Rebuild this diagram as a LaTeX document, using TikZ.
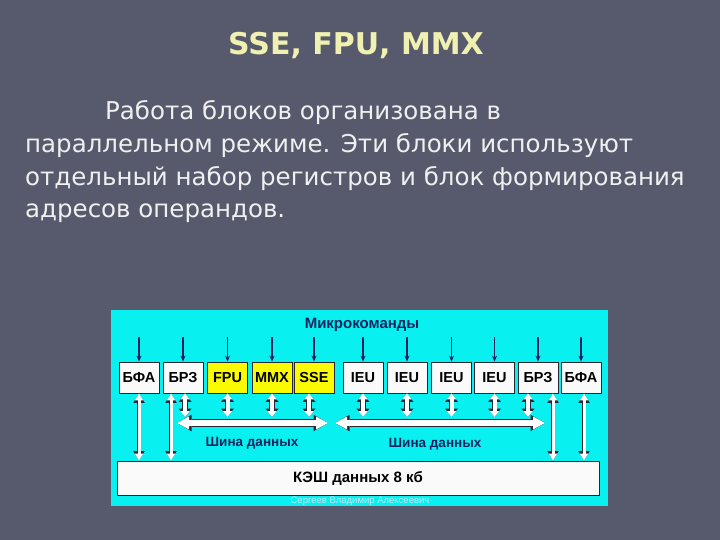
\documentclass[tikz,border=0pt]{standalone}
\usepackage{fontspec}
\setmainfont{Liberation Sans}
\newfontfamily\bodyfont{DejaVu Sans}
\newfontfamily\titlefont{DejaVu Sans}
\usetikzlibrary{arrows.meta}
\definecolor{bg}{RGB}{86,90,108}
\definecolor{titlecol}{RGB}{240,240,176}
\definecolor{bodycol}{RGB}{240,240,240}
\definecolor{cyanpanel}{RGB}{8,240,240}
\definecolor{navy}{RGB}{20,35,95}
\definecolor{boxline}{RGB}{40,40,50}
\definecolor{yel}{RGB}{250,250,0}
\definecolor{wbox}{RGB}{250,250,250}
\definecolor{outl}{RGB}{40,40,55}
\definecolor{wmark}{RGB}{190,235,245}
\tikzset{
  sin/.tip={Triangle[length=6pt,width=9.5pt,line width=0pt]},
  sout/.tip={Triangle[length=8.5pt,width=13pt,line width=0pt]},
  lin/.tip={Triangle[length=7pt,width=8.5pt,line width=0pt]},
  lout/.tip={Triangle[length=9.5pt,width=11.5pt,line width=0pt]},
  bin/.tip={Triangle[length=12pt,width=13pt,line width=0pt]},
  bout/.tip={Triangle[length=14.5pt,width=16.5pt,line width=0pt]},
  vshort/.style={draw=white, line width=4pt, sin-sin,
    preaction={draw=outl, line width=5.8pt, sout-sout}},
  vlong/.style={draw=white, line width=3pt, lin-lin,
    preaction={draw=outl, line width=4.6pt, lout-lout}},
  busarrow/.style={draw=white, line width=5.4pt, bin-bin,
    preaction={draw=outl, line width=7.2pt, bout-bout}},
  cmdarrow/.style={draw=navy, line width=1.3pt, -{Stealth[length=6pt,width=5pt]}},
  blk/.style={draw=boxline, line width=0.8pt, minimum width=40pt, minimum height=31pt,
    inner sep=0pt, font=\fontsize{14.5}{14.5}\selectfont\bfseries, text=black},
  wblk/.style={blk, fill=wbox},
  yblk/.style={blk, fill=yel},
  buslabel/.style={font=\fontsize{13.5}{14}\selectfont\bfseries, text=navy},
  bodyline/.style={anchor=base west, inner sep=0pt, text=bodycol,
    font=\bodyfont\fontsize{24.5}{28}\selectfont},
}
\begin{document}
\begin{tikzpicture}[x=1pt,y=-1pt]
\fill[bg] (0,0) rectangle (720,540);
\useasboundingbox (0,0) rectangle (720,540);
% title
\node[text=titlecol, font=\titlefont\fontsize{30}{32}\selectfont\bfseries] (title) at (356,46) {SSE, FPU, MMX};
% body
\node[bodyline] (l1) at (105,120) {Работа блоков организована в};
\node[bodyline] (l2) at (25,153) {параллельном режиме. Эти блоки используют};
\node[bodyline] (l3) at (25,186) {отдельный набор регистров и блок формирования};
\node[bodyline] (l4) at (25,218) {адресов операндов.};
% panel
\fill[cyanpanel] (111,310) rectangle (608,506);
\node[font=\fontsize{15}{15}\selectfont\bfseries, text=navy] (mk) at (362,325) {Микрокоманды};
\coordinate (mktop) at (0,337);
\coordinate (bustop) at (0,417);
% blocks
\node[wblk] (b1) at (139,377.5) {БФА};
\node[wblk] (b2) at (183,377.5) {БРЗ};
\node[yblk] (b3) at (227.5,377.5) {FPU};
\node[yblk] (b4) at (272,377.5) {MMX};
\node[yblk] (b5) at (314,377.5) {SSE};
\node[wblk] (b6) at (363,377.5) {IEU};
\node[wblk] (b7) at (407,377.5) {IEU};
\node[wblk] (b8) at (451.5,377.5) {IEU};
\node[wblk] (b9) at (494.5,377.5) {IEU};
\node[wblk] (b10) at (538,377.5) {БРЗ};
\node[wblk] (b11) at (581,377.5) {БФА};
% command arrows
\foreach \b in {b1,b2,b3,b4,b5,b6,b7,b8,b9,b10,b11}
  \draw[cmdarrow] (\b.north |- mktop) -- (\b.north);
% cache
\node[draw=boxline, line width=0.8pt, fill=wbox, minimum width=482pt, minimum height=34pt,
  inner sep=0pt, font=\fontsize{15}{15}\selectfont\bfseries] (cache) at (358,478) {КЭШ данных 8 кб};
% buses
\coordinate (busL1) at (177,423);
\coordinate (busL2) at (328,423);
\coordinate (busR1) at (335,423);
\coordinate (busR2) at (545,423);
\draw[busarrow] (busL1) -- (busL2);
\draw[busarrow] (busR1) -- (busR2);
\node[buslabel] (bl1) at (252,443) {Шина данных};
\node[buslabel] (bl2) at (435,444) {Шина данных};
% short vertical arrows
\draw[vshort] ([xshift=2pt]b2.south) -- ([xshift=2pt]b2.south |- bustop);
\draw[vshort] (b3.south) -- (b3.south |- bustop);
\draw[vshort] (b4.south) -- (b4.south |- bustop);
\draw[vshort] ([xshift=-5pt]b5.south) -- ([xshift=-5pt]b5.south |- bustop);
\draw[vshort] (b6.south) -- (b6.south |- bustop);
\draw[vshort] (b7.south) -- (b7.south |- bustop);
\draw[vshort] (b8.south) -- (b8.south |- bustop);
\draw[vshort] (b9.south) -- (b9.south |- bustop);
\draw[vshort] ([xshift=-10pt]b10.south) -- ([xshift=-10pt]b10.south |- bustop);
% long vertical arrows
\draw[vlong] (b1.south) -- (b1.south |- cache.north);
\draw[vlong] ([xshift=-12pt]b2.south) -- ([xshift=-12pt]b2.south |- cache.north);
\draw[vlong] ([xshift=15pt]b10.south) -- ([xshift=15pt]b10.south |- cache.north);
\draw[vlong] ([xshift=3pt]b11.south) -- ([xshift=3pt]b11.south |- cache.north);
% watermark
\node[text=wmark, font=\fontsize{9.5}{10}\selectfont] (wm) at (360,501) {Сергеев Владимир Алексеевич};
\end{tikzpicture}
\end{document}
